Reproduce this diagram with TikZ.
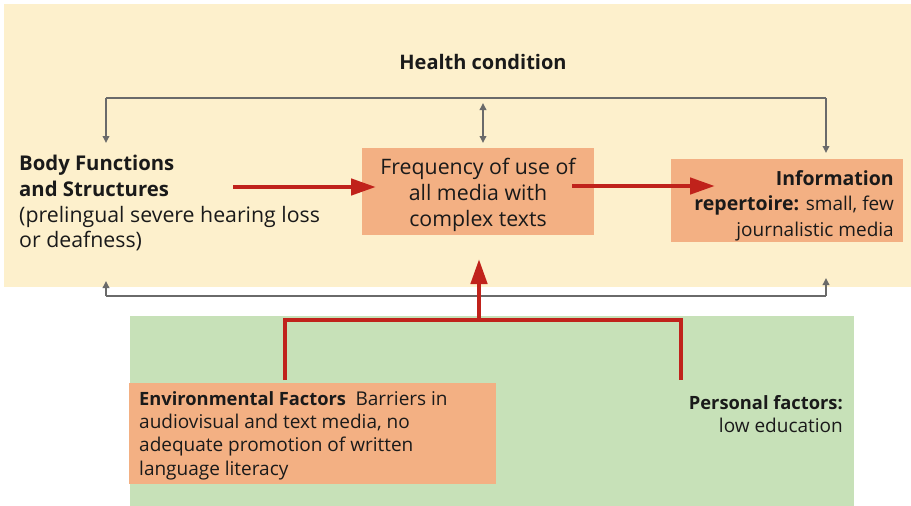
\documentclass[tikz,border=0pt]{standalone}
\usepackage{fontspec}
\setmainfont{Open Sans}
\usetikzlibrary{arrows.meta,calc}
\definecolor{yellowbg}{HTML}{FDF0CC}
\definecolor{greenbg}{HTML}{C7E1B8}
\definecolor{boxfill}{HTML}{F3B083}
\definecolor{redline}{HTML}{C0221B}
\definecolor{grayline}{HTML}{6A6A6A}
\definecolor{ink}{HTML}{1A1A1A}
% bold headings inside the larger text blocks
\newcommand\bigbold[1]{{\fontsize{20.3}{25.7}\selectfont\bfseries #1}}
\newcommand\smallbold[1]{{\fontsize{18.3}{23.3}\selectfont\bfseries #1}}
\tikzset{
  bigtxt/.style={font=\fontsize{21.3}{25.7}\selectfont, text=ink, inner sep=0pt},
  smalltxt/.style={font=\fontsize{19}{23.3}\selectfont, text=ink, inner sep=0pt},
  fbox/.style={fill=boxfill, inner sep=0pt},
  relation/.style={draw=grayline, line width=2pt, -{Triangle[length=7pt,width=6.5pt]}},
  relation2/.style={draw=grayline, line width=2pt, {Triangle[length=7pt,width=6.5pt]}-{Triangle[length=7pt,width=6.5pt]}},
  influence/.style={draw=redline, line width=4.5pt, -{Triangle[length=25pt,width=16pt]}},
  bracket/.style={draw=redline, line width=4.5pt},
}
\begin{document}
\begin{tikzpicture}[x=1pt,y=-1pt]
\useasboundingbox (0,0) rectangle (911,506);
% background regions
\fill[yellowbg] (4,4) rectangle (911,287);
\fill[greenbg] (130,316) rectangle (854,506);

% title
\node[bigtxt, font=\fontsize{20}{25}\selectfont\bfseries] (health) at (483,62) {Health condition};

% boxes
\node[fbox, minimum width=232pt, minimum height=87pt] (freq) at (478,191.5) {};
\node[bigtxt, font=\fontsize{21.3}{26}\selectfont, align=center] (freqtext) at (478,194.5)
  {Frequency of use of\\all media with\\complex texts};
\node[fbox, minimum width=232pt, minimum height=83pt] (info) at (787,200.5) {};
\node[smalltxt, font=\fontsize{19}{25.5}\selectfont, anchor=north east, align=right] (infotext) at (894,170)
  {{\fontsize{19.5}{25.5}\selectfont\bfseries Information}\\{\fontsize{19.5}{25.5}\selectfont\bfseries repertoire:} small, few\\journalistic media};
\node[fbox, minimum width=367pt, minimum height=101pt] (env) at (312.5,433.5) {};
\node[smalltxt, anchor=north west, align=left] (envtext) at (139,391)
  {\smallbold{Environmental Factors}\enspace Barriers in\\audiovisual and text media, no\\adequate promotion of written\\language literacy};

% free texts
\node[bigtxt, anchor=north west, align=left] (body) at (19,155)
  {\bigbold{Body Functions}\\\bigbold{and Structures}\\(prelingual severe hearing loss\\or deafness)};
\node[smalltxt, font=\fontsize{19}{23}\selectfont, anchor=north east, align=right] (pers) at (843,395)
  {\smallbold{Personal factors:}\\low education};

% feedback lines of the health condition
\coordinate (tl) at (106,98);
\coordinate (tr) at (826,98);
\coordinate (tlend) at (106,143);
\coordinate (trend) at (826,153);
\coordinate (tm1) at (483,103);
\coordinate (tm2) at (483,143);
\draw[grayline, line width=2pt] (tl) -- (tr);
\draw[relation] (tl) -- (tlend);
\draw[relation] (tr) -- (trend);
\draw[relation2] (tm1) -- (tm2);

\coordinate (bl) at (106,296);
\coordinate (br) at (826,296);
\coordinate (blend) at (106,281);
\coordinate (brend) at (826,278);
\draw[grayline, line width=2pt] (bl) -- (br);
\draw[relation] (bl) -- (blend);
\draw[relation] (br) -- (brend);

% main influences
\coordinate (a1s) at (233,187);
\coordinate (a1e) at (376,187);
\coordinate (a2s) at (572,186);
\coordinate (a2e) at (715,186);
\draw[influence] (a1s) -- (a1e);
\draw[influence] (a2s) -- (a2e);

\coordinate (ctx) at (479,320);
\coordinate (ctxe) at (479,259);
\coordinate (envtop) at (285,380);
\coordinate (perstop) at (681,380);
\draw[bracket] (envtop) -- (285,320) -- (681,320) -- (perstop);
\draw[influence] (ctx) -- (ctxe);
\end{tikzpicture}
\end{document}
